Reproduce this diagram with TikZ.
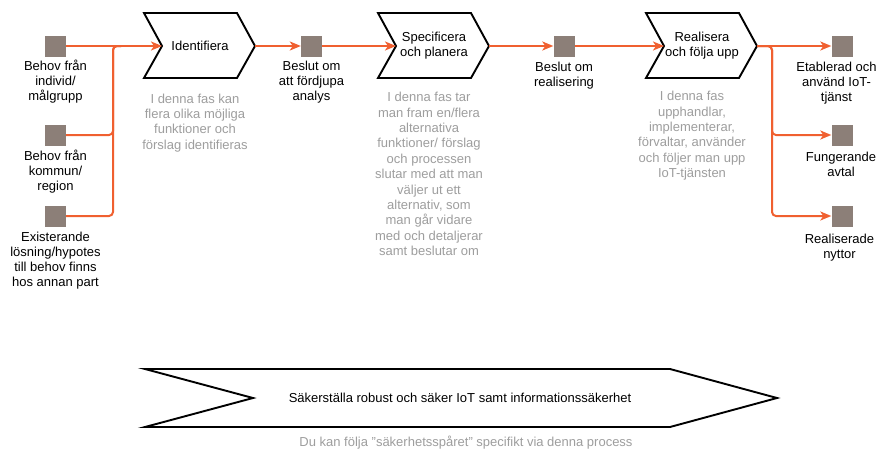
\documentclass[tikz,border=0pt]{standalone}
\usepackage{fontspec}
\setmainfont{Liberation Sans}
\usetikzlibrary{arrows.meta}
\definecolor{sqfill}{RGB}{140,127,120}
\definecolor{orng}{RGB}{240,96,48}
\definecolor{greytxt}{RGB}{158,158,158}
\begin{document}
\begin{tikzpicture}[x=1pt,y=-1pt,
  sq/.style={fill=sqfill,draw=none,minimum width=21pt,minimum height=21pt,inner sep=0pt},
  lbl/.style={align=center,font=\fontsize{13}{15}\selectfont,inner sep=0pt,anchor=north,text=black},
  desc/.style={align=center,font=\fontsize{13}{15.4}\selectfont,inner sep=0pt,anchor=north,text=greytxt},
  chev/.style={draw=black,line width=1.9pt,fill=white,line join=miter},
  ctext/.style={align=center,font=\fontsize{13}{15}\selectfont,inner sep=0pt},
  conn/.style={draw=orng,line width=2pt,rounded corners=4pt,-{Stealth[length=11pt,width=9pt,inset=3pt]}},
  plain/.style={draw=orng,line width=2pt,rounded corners=4pt}
]
\useasboundingbox (0,0) rectangle (878,450);
\fill[white] (0,0) rectangle (878,450);

% chevrons
\newcommand{\chevron}[3]{% #1 name, #2 left x, #3 text
  \draw[chev] (#2,13) -- (#2+93,13) -- (#2+111,46) -- (#2+93,78) -- (#2,78) -- (#2+18,46) -- cycle;
  \coordinate (#1in) at (#2+18,46);
  \coordinate (#1out) at (#2+111,46);
  \node[ctext] (#1) at (#2+56,45.5) {#3};
}
\chevron{ca}{144}{Identifiera}
\chevron{cb}{378}{Specificera\\och planera}
\chevron{cc}{646}{Realisera\\och följa upp}

% squares
\node[sq] (s1) at (55.5,46) {};
\node[sq] (s2) at (55.5,135) {};
\node[sq] (s3) at (55.5,216) {};
\node[sq] (d1) at (311.5,46) {};
\node[sq] (d2) at (564,46) {};
\node[sq] (r1) at (842,46) {};
\node[sq] (r2) at (842,135) {};
\node[sq] (r3) at (842,216) {};

% labels
\node[lbl] (ls1) at (55.5,60) {Behov från\\individ/\\målgrupp};
\node[lbl] (ls2) at (55.5,149.5) {Behov från\\kommun/\\region};
\node[lbl] (ls3) at (55.5,231.5) {Existerande\\lösning/hypotes\\till behov finns\\hos annan part};
\node[lbl] (ld1) at (311.5,61) {Beslut om\\att fördjupa\\analys};
\node[lbl] (ld2) at (564,62) {Beslut om\\realisering};
\node[lbl] (lr1) at (836.5,62) {Etablerad och\\använd IoT-\\tjänst};
\node[lbl] (lr2) at (841,151.5) {Fungerande\\avtal};
\node[lbl] (lr3) at (839.5,233.5) {Realiserade\\nyttor};

% descriptions
\node[desc] (da) at (195,93.5) {I denna fas kan\\flera olika möjliga\\funktioner och\\förslag identifieras};
\node[desc] (db) at (429,92) {I denna fas tar\\man fram en/flera\\alternativa\\funktioner/ förslag\\och processen\\slutar med att man\\väljer ut ett\\alternativ, som\\man går vidare\\med och detaljerar\\samt beslutar om};
\node[desc] (dc) at (692,91) {I denna fas\\upphandlar,\\implementerar,\\förvaltar, använder\\och följer man upp\\IoT-tjänsten};

% connectors
\coordinate (jl) at (113,46);
\draw[conn] (s1.east) -- (cain);
\draw[plain] (s2.east) -| (jl) -- ++(8,0);
\draw[plain] (s3.east) -| (jl) -- ++(8,0);
\draw[conn] (caout) -- (d1.west);
\draw[conn] (d1.east) -- (cbin);
\draw[conn] (cbout) -- (d2.west);
\draw[conn] (d2.east) -- (ccin);
\draw[conn] (ccout) -- (r1.west);
\draw[conn] (ccout) -- ++(15,0) |- (r2.west);
\draw[conn] (ccout) -- ++(15,0) |- (r3.west);

% bottom banner
\draw[chev] (145,369) -- (670,369) -- (777,398) -- (670,427) -- (145,427) -- (253,398) -- cycle;
\node[ctext] (banner) at (460,398) {Säkerställa robust och säker IoT samt informationssäkerhet};
\node[desc,anchor=center] (bannersub) at (466,443) {Du kan följa "säkerhetsspåret" specifikt via denna process};
\end{tikzpicture}
\end{document}
